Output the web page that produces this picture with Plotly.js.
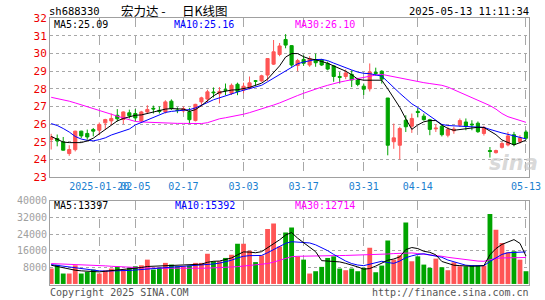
<!DOCTYPE html>
<html><head><meta charset="utf-8">
<script src="https://cdn.plot.ly/plotly-3.0.1.min.js"></script>
<style>html,body{margin:0;padding:0;background:#fff}#c{width:545px;height:300px}</style>
</head><body><div id="c"></div>
<script>
const dates = ['2025-01-08','2025-01-09','2025-01-10','2025-01-13','2025-01-14','2025-01-15','2025-01-16','2025-01-17','2025-01-20','2025-01-21','2025-01-22','2025-01-23','2025-01-24','2025-01-27',
'2025-02-05','2025-02-06','2025-02-07','2025-02-10','2025-02-11','2025-02-12','2025-02-13','2025-02-14','2025-02-17','2025-02-18','2025-02-19','2025-02-20','2025-02-21','2025-02-24','2025-02-25','2025-02-26','2025-02-27','2025-02-28',
'2025-03-03','2025-03-04','2025-03-05','2025-03-06','2025-03-07','2025-03-10','2025-03-11','2025-03-12','2025-03-13','2025-03-14','2025-03-17','2025-03-18','2025-03-19','2025-03-20','2025-03-21','2025-03-24','2025-03-25','2025-03-26','2025-03-27','2025-03-28','2025-03-31',
'2025-04-01','2025-04-02','2025-04-03','2025-04-07','2025-04-08','2025-04-09','2025-04-10','2025-04-11','2025-04-14','2025-04-15','2025-04-16','2025-04-17','2025-04-18','2025-04-21','2025-04-22','2025-04-23','2025-04-24','2025-04-25','2025-04-28','2025-04-29','2025-04-30',
'2025-05-06','2025-05-07','2025-05-08','2025-05-09','2025-05-12','2025-05-13'];

const openP  = [25.12,25.18,24.99,24.33,24.55,25.60,25.47,25.69,25.65,26.07,26.18,26.50,26.26,26.64,26.60,26.18,26.69,26.90,26.78,26.69,27.30,26.80,26.75,26.70,26.20,27.26,27.42,27.82,27.72,27.95,27.75,28.26,27.93,28.02,28.46,28.45,28.78,29.40,29.95,30.80,30.45,29.32,29.67,29.35,29.66,29.65,29.44,29.30,28.70,28.70,28.82,28.50,28.15,28.00,28.93,29.00,27.48,25.00,24.80,26.22,25.88,26.72,26.45,26.25,25.73,25.88,25.37,25.62,25.94,26.12,26.00,26.05,25.47,24.50,24.38,24.68,24.82,25.40,25.00,25.55];
const highP  = [25.45,25.41,25.27,24.80,25.62,25.62,25.69,25.78,26.09,26.30,26.60,26.85,26.72,26.82,26.85,26.75,27.07,27.05,27.00,27.35,27.40,26.95,27.00,26.92,27.15,27.55,27.95,28.08,28.10,28.30,28.30,28.35,28.35,28.70,28.50,28.80,29.73,30.77,30.60,31.10,30.48,29.70,29.90,29.85,30.00,29.70,29.55,29.35,28.95,29.10,29.05,28.62,28.30,29.44,29.20,29.05,27.48,26.03,25.85,26.50,26.60,26.90,26.60,26.30,26.00,26.00,25.85,25.85,26.32,26.32,26.22,26.15,25.90,24.70,24.55,24.99,25.56,25.56,25.37,25.65];
const lowP   = [24.56,24.74,24.50,24.20,24.45,25.20,25.12,25.31,25.37,25.70,25.95,26.15,26.00,26.32,26.15,26.10,26.60,26.60,26.60,26.60,26.80,26.62,26.65,26.00,26.15,27.00,27.20,27.51,27.17,27.64,27.65,27.64,27.75,27.97,28.15,28.40,28.45,29.35,29.85,30.30,29.25,29.00,29.30,29.25,29.25,29.30,29.05,28.40,28.30,28.55,28.10,28.15,27.65,27.85,28.75,28.30,24.23,24.60,24.00,25.55,25.50,26.38,26.20,25.37,25.55,25.30,25.25,25.45,25.84,25.65,25.65,25.50,25.35,24.10,24.33,24.61,24.74,24.74,24.90,25.10];
const closeP = [25.27,25.05,24.52,24.56,25.60,25.33,25.27,25.60,25.98,26.26,26.32,26.30,26.69,26.47,26.35,26.69,26.83,26.86,26.72,27.26,26.88,26.77,26.88,26.25,27.12,27.49,27.83,27.78,27.86,27.92,28.20,27.85,28.15,28.34,28.43,28.74,29.72,30.10,30.43,30.48,29.35,29.60,29.45,29.72,29.48,29.35,29.12,28.70,28.65,28.90,28.50,28.25,27.98,28.96,28.88,28.55,24.80,25.22,25.75,25.85,26.32,26.66,26.25,25.70,25.77,25.40,25.69,25.72,26.20,25.88,25.96,25.57,25.80,24.45,24.50,24.90,25.33,24.85,25.22,25.20];

const ma5  = [25.30,25.15,24.98,24.95,24.95,24.95,25.05,25.20,25.45,25.70,25.95,26.18,26.32,26.42,26.50,26.52,26.60,26.70,26.78,26.85,26.88,26.88,26.85,26.72,26.82,27.05,27.35,27.60,27.80,27.88,27.93,27.95,28.00,28.08,28.20,28.32,28.55,28.90,29.30,29.80,30.00,30.00,29.82,29.70,29.65,29.55,29.45,29.30,29.15,29.00,28.80,28.55,28.49,28.49,28.49,28.49,28.00,27.50,26.95,26.30,25.70,25.95,26.13,26.20,26.20,25.95,25.75,25.65,25.70,25.75,25.80,25.82,25.81,25.60,25.40,25.10,24.95,24.82,24.95,25.09];
const ma10 = [26.03,25.92,25.75,25.55,25.30,25.15,25.08,25.05,25.12,25.22,25.38,25.50,25.60,25.72,25.95,26.10,26.25,26.40,26.55,26.66,26.72,26.75,26.78,26.82,26.92,27.05,27.22,27.38,27.50,27.62,27.72,27.82,27.92,28.00,28.10,28.20,28.40,28.60,28.82,29.02,29.20,29.42,29.52,29.60,29.66,29.67,29.60,29.46,29.32,29.20,29.07,28.95,28.88,28.86,28.80,28.72,28.40,28.05,27.75,27.45,27.15,26.94,26.70,26.45,26.20,25.98,25.92,25.90,25.90,25.88,25.87,25.85,25.81,25.70,25.58,25.50,25.42,25.32,25.25,25.16];
const ma30 = [27.52,27.46,27.38,27.30,27.20,27.10,27.00,26.90,26.78,26.68,26.56,26.45,26.35,26.25,26.15,26.12,26.10,26.08,26.08,26.07,26.05,26.04,26.04,26.03,26.03,26.03,26.08,26.20,26.30,26.36,26.42,26.50,26.56,26.65,26.75,26.85,26.95,27.08,27.20,27.35,27.50,27.62,27.75,27.88,28.00,28.10,28.20,28.30,28.38,28.45,28.52,28.58,28.63,28.70,28.78,28.82,28.75,28.68,28.60,28.52,28.47,28.40,28.35,28.30,28.25,28.20,28.10,27.95,27.80,27.65,27.50,27.35,27.20,27.05,26.85,26.60,26.42,26.30,26.20,26.10];

const volume = [7400,9200,5010,5010,8970,5010,5820,6920,5010,6500,7400,8500,6920,7900,8500,8970,11690,6920,7900,10120,9310,8500,8500,8830,10120,10120,14560,10880,10880,12500,14080,19330,19330,16000,10500,13700,26400,29000,18040,24730,27120,13270,11690,5000,6120,8200,12500,13270,7400,6600,7400,6120,7730,17420,5630,8830,20900,11690,13750,29500,10900,13270,9300,7730,12170,8020,6600,10400,8500,8500,8970,8830,8830,33650,26000,19660,15180,15660,11690,6120];
const volMa5  = [9000,8400,7600,7000,6600,6300,6200,5900,5800,6100,6400,6500,6800,7400,7700,7900,8400,8500,8500,8700,8800,8800,9000,9200,9300,9500,10400,10900,11000,11800,12500,14000,15400,15300,15000,15500,17300,19000,21200,23500,24700,22000,19800,18000,15500,11200,11100,10900,10600,9900,9200,8200,7100,7400,8600,10000,11400,12000,13000,16500,17500,17000,15700,15200,14000,10800,9800,9000,8800,8600,8500,8600,8800,14000,17000,19000,20200,21300,19500,13397];
const volMa10 = [9300,8900,8500,8200,7800,7300,6900,6600,6300,6200,6200,6300,6400,6500,6700,6900,7100,7300,7500,7700,7900,8100,8300,8500,8700,8900,9200,9600,10000,10600,11400,12500,13300,13600,13600,13700,15000,16500,18000,19500,20300,20200,20000,19700,18800,17500,16000,14200,12500,11000,9800,9100,8800,9500,10400,10900,10300,9900,11000,12600,13500,14200,14500,14000,13500,12800,11500,10700,9900,9000,8800,8800,8800,10800,12500,14200,15000,15200,15200,15392];
const volMa30 = [9800,9700,9600,9500,9450,9400,9300,9100,8900,8700,8500,8300,8100,7900,7800,7700,7650,7600,7550,7500,7450,7400,7400,7450,7500,7550,7600,7700,7800,7900,8100,8300,8600,8900,9100,9300,9800,10500,11400,12300,13100,13300,13400,13450,13500,13550,13600,13600,13650,13700,13750,13800,13900,14000,14100,14200,14400,14600,14800,14900,14900,14600,14300,14100,13800,13300,12800,12400,12000,11600,11200,11000,10900,11500,12300,12500,12600,12650,12700,12714];

const tickDates = ['2025-01-20','2025-02-05','2025-02-17','2025-03-03','2025-03-17','2025-03-31','2025-04-14','2025-05-13'];
const tickText  = ['2025-01-20','02-05','02-17','03-03','03-17','03-31','04-14','05-13'];
const priceTicks = [23,24,25,26,27,28,29,30,31,32];
const volTicks = [8000,16000,24000,32000,40000];
const volTickText = ['8000','16000','24000','32000','40000'];

const stockCode = 'sh688330';
const titleName = '宏力达 -';
const titleKind = '日K线图';
const stamp = '2025-05-13 11:11:34';
const maLabels = ['MA5:25.09','MA10:25.16','MA30:26.10'];
const volLabels = ['MA5:13397','MA10:15392','MA30:12714'];

const RED = '#ff5555', GREEN = '#00a400';
const W = 545, H = 300;
const px = v => v / W, py = v => 1 - v / H;
const mono = 'DejaVu Sans Mono';

const volColors = closeP.map((c, i) => c >= openP[i] ? RED : GREEN);

const traces = [
  {type:'candlestick', x:dates, open:openP, high:highP, low:lowP, close:closeP, xaxis:'x', yaxis:'y',
   increasing:{line:{color:RED,width:1}, fillcolor:RED},
   decreasing:{line:{color:GREEN,width:1}, fillcolor:GREEN},
   whiskerwidth:0, hoverinfo:'skip'},
  {type:'scatter', mode:'lines', x:dates, y:ma30, line:{color:'#ff00ff',width:1}, xaxis:'x', yaxis:'y', hoverinfo:'skip'},
  {type:'scatter', mode:'lines', x:dates, y:ma10, line:{color:'#0000ff',width:1}, xaxis:'x', yaxis:'y', hoverinfo:'skip'},
  {type:'scatter', mode:'lines', x:dates, y:ma5, line:{color:'#000000',width:1}, xaxis:'x', yaxis:'y', hoverinfo:'skip'},
  {type:'bar', x:dates, y:volume, marker:{color:volColors, line:{width:0}}, width:0.8, xaxis:'x2', yaxis:'y2', hoverinfo:'skip'},
  {type:'scatter', mode:'lines', x:dates, y:volMa30, line:{color:'#ff00ff',width:1}, xaxis:'x2', yaxis:'y2', hoverinfo:'skip'},
  {type:'scatter', mode:'lines', x:dates, y:volMa10, line:{color:'#0000ff',width:1}, xaxis:'x2', yaxis:'y2', hoverinfo:'skip'},
  {type:'scatter', mode:'lines', x:dates, y:volMa5, line:{color:'#000000',width:1}, xaxis:'x2', yaxis:'y2', hoverinfo:'skip'}
];

const xDomain = [px(50), px(529)];
const xRange = [-0.2, 79.5];
const gridC = '#a8a8a8', borderC = '#a0a0a0';

function ann(text, x, y, anchor, color, size, family) {
  return {text:text, x:px(x), y:py(y), xref:'paper', yref:'paper', xanchor:anchor, yanchor:'middle',
          showarrow:false, borderpad:0, font:{family:family||mono, size:size||10, color:color||'#000'}};
}

const annotations = [
  ann(stockCode, 48, 11, 'left', '#000', 10.5),
  ann(titleName, 120, 11, 'left', '#000', 12.5, 'Noto Sans CJK SC'),
  ann(titleKind, 181, 11, 'left', '#000', 12.5, 'Noto Sans CJK SC'),
  ann(stamp, 530, 11, 'right', '#000', 10.5),
  ann(maLabels[0], 53, 24.5, 'left', '#000'),
  ann(maLabels[1], 173, 24.5, 'left', '#0000ff'),
  ann(maLabels[2], 294, 24.5, 'left', '#ff00ff'),
  ann(volLabels[0], 53, 205.5, 'left', '#000'),
  ann(volLabels[1], 174, 205.5, 'left', '#0000ff'),
  ann(volLabels[2], 294, 205.5, 'left', '#ff00ff'),
  ann('Copyright 2025 SINA.COM', 49, 292, 'left', '#555'),
  ann('http://finance.sina.com.cn', 530, 292, 'right', '#555'),
  {text:'sina', x:px(513), y:py(163), xref:'paper', yref:'paper', xanchor:'center', yanchor:'middle', showarrow:false,
   font:{family:'DejaVu Sans', size:21, color:'rgba(200,200,200,0.7)', weight:'bold', style:'italic'}}
];

const layout = {
  width:W, height:H, margin:{l:0,r:0,t:0,b:0}, paper_bgcolor:'#fff', plot_bgcolor:'#fff',
  showlegend:false, dragmode:false, boxgap:0.25, bargap:0.2,
  xaxis:{type:'category', domain:xDomain, range:xRange, anchor:'y', tickvals:tickDates, ticktext:tickText,
    tickangle:0, ticks:'', tickfont:{family:mono, size:10, color:'#1a80d0'},
    showgrid:true, gridcolor:gridC, griddash:'dash', gridwidth:1,
    showline:true, mirror:true, linecolor:borderC, linewidth:1, rangeslider:{visible:false}, fixedrange:true},
  yaxis:{domain:[py(177), py(18.3)], range:[23,32], anchor:'x', tickvals:priceTicks, ticks:'',
    tickfont:{family:mono, size:11, color:'#ee0000'},
    showgrid:true, gridcolor:gridC, griddash:'dot', gridwidth:1, zeroline:false,
    showline:true, mirror:true, linecolor:borderC, linewidth:1, fixedrange:true},
  xaxis2:{type:'category', domain:xDomain, range:xRange, anchor:'y2', tickvals:tickDates, showticklabels:false, ticks:'',
    showgrid:true, gridcolor:gridC, griddash:'dash', gridwidth:1,
    showline:true, mirror:true, linecolor:borderC, linewidth:1, fixedrange:true},
  yaxis2:{domain:[py(285), py(200.7)], range:[-500,40000], anchor:'x2', tickvals:volTicks, ticktext:volTickText, ticks:'',
    tickfont:{family:mono, size:10, color:'#a0a0a0'},
    showgrid:true, gridcolor:gridC, griddash:'dot', gridwidth:1, zeroline:false,
    showline:true, mirror:true, linecolor:borderC, linewidth:1, fixedrange:true},
  annotations:annotations
};

Plotly.newPlot('c', traces, layout, {staticPlot:true, displayModeBar:false});
</script></body></html>
